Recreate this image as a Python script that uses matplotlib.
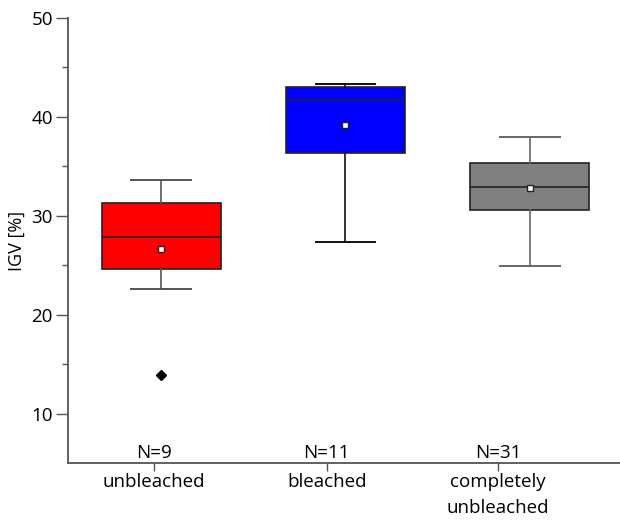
import matplotlib
matplotlib.use('Agg')
import matplotlib.pyplot as plt

plt.rcParams['font.family'] = ['Open Sans', 'DejaVu Sans']

# values
groups = ['unbleached', 'bleached', 'completely\nunbleached']
counts = [9, 11, 31]
q1 = [24.6, 36.3, 30.6]
median = [27.9, 41.7, 32.9]
q3 = [31.3, 43.0, 35.3]
whis_lo = [22.6, 27.3, 24.9]
whis_hi = [33.6, 43.3, 38.0]
means = [26.6, 39.2, 32.8]
outliers = [[13.9], [], []]
colors = ['#ff0000', '#0000ff', '#808080']
whisker_colors = ['#555555', '#111111', '#666666']

box_pos = [1, 2, 3]
label_pos = [0.961, 1.898, 2.828]

fig = plt.figure(figsize=(6.2, 5.22), dpi=100)
ax = fig.add_axes([0.110, 0.113, 0.890, 0.8525])

stats = []
for i in range(len(groups)):
    stats.append(dict(med=median[i], q1=q1[i], q3=q3[i], whislo=whis_lo[i],
                      whishi=whis_hi[i], mean=means[i], fliers=outliers[i]))

bp = ax.bxp(stats, positions=box_pos, widths=0.646, patch_artist=True,
            showmeans=True, capwidths=0.325,
            boxprops=dict(edgecolor='#222222', linewidth=1.2),
            medianprops=dict(color='#222222', linewidth=1.2),
            whiskerprops=dict(linewidth=1.2),
            capprops=dict(linewidth=1.4),
            meanprops=dict(marker='s', markerfacecolor='white',
                           markeredgecolor='#222222', markersize=5,
                           markeredgewidth=1),
            flierprops=dict(marker='D', markerfacecolor='black',
                            markeredgecolor='black', markersize=5))
for patch, c in zip(bp['boxes'], colors):
    patch.set_facecolor(c)
for i, c in enumerate(whisker_colors):
    for ln in bp['whiskers'][2 * i:2 * i + 2] + bp['caps'][2 * i:2 * i + 2]:
        ln.set_color(c)

ax.set_xlim(0.495, 3.49)
ax.set_ylim(5, 50)
ax.set_yticks([10, 20, 30, 40, 50])
ax.set_yticks([15, 25, 35, 45], minor=True)
ax.set_xticks(label_pos)
ax.set_xticklabels(groups, fontsize=13.5, linespacing=1.6)

for x, n in zip(label_pos, counts):
    ax.text(x, 6.0, 'N=%d' % n, ha='center', va='center', fontsize=13.5)

ax.set_ylabel('IGV [%]', fontsize=13, labelpad=4)
ax.tick_params(axis='y', which='major', length=9, width=1, labelsize=13.5,
               color='#555555', pad=2)
ax.tick_params(axis='y', which='minor', length=4, width=1, color='#555555')
ax.tick_params(axis='x', length=6, width=1, color='#555555', pad=1)

for s in ['top', 'right']:
    ax.spines[s].set_visible(False)
for s in ['left', 'bottom']:
    ax.spines[s].set_color('#555555')
    ax.spines[s].set_linewidth(1.3)

fig.savefig('out.png', dpi=100)
